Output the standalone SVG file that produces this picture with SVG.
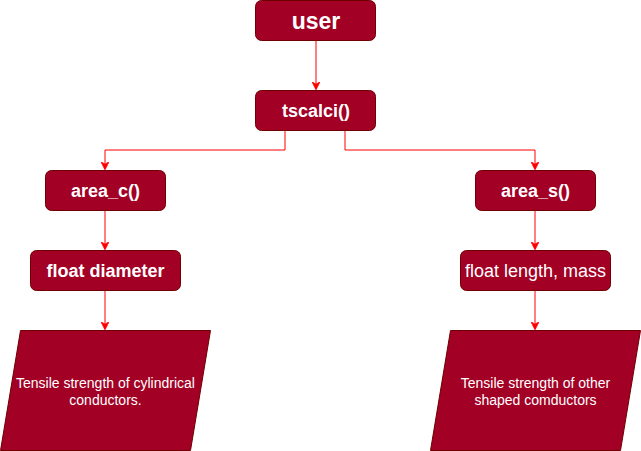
<svg xmlns="http://www.w3.org/2000/svg" width="641" height="451" viewBox="0 0 641 451">
<style>
.box{fill:#a20025;stroke:#6f0000;stroke-width:1}
.t{fill:#ffffff;font-family:"Liberation Sans",Arial,sans-serif;text-anchor:middle;dominant-baseline:central}
.b{font-weight:bold;font-size:18px}
.s{font-size:14px}
.e{fill:none;stroke:#ff0000;stroke-width:1}
</style>
<defs>
<marker id="a" viewBox="0 0 10 10" refX="9" refY="5" markerWidth="8" markerHeight="8" markerUnits="userSpaceOnUse" orient="auto">
<path d="M0,0 L10,5 L0,10 L3,5 Z" fill="#ff0000" stroke="#ff0000"/>
</marker>
</defs>
<g id="connectors">
<path class="e" d="M316,41 V89" marker-end="url(#a)"/>
<path class="e" d="M285,130 V150 H105 V169" marker-end="url(#a)"/>
<path class="e" d="M345,130 V150 H535 V169" marker-end="url(#a)"/>
<path class="e" d="M105,210 V249" marker-end="url(#a)"/>
<path class="e" d="M535,210 V249" marker-end="url(#a)"/>
<path class="e" d="M105,290 V329" marker-end="url(#a)"/>
<path class="e" d="M535,290 V329" marker-end="url(#a)"/>
</g>
<g id="user"><rect class="box" x="255.5" y="0.5" width="120" height="40" rx="6"/><text class="t" x="316" y="21" font-size="23" font-weight="bold">user</text></g>
<g id="tscalci"><rect class="box" x="255.5" y="90.5" width="120" height="40" rx="6"/><text class="t b" x="316" y="110.5">tscalci()</text></g>
<g id="area_c"><rect class="box" x="45.5" y="170.5" width="120" height="40" rx="6"/><text class="t b" x="105.5" y="190.5">area_c()</text></g>
<g id="area_s"><rect class="box" x="475.5" y="170.5" width="120" height="40" rx="6"/><text class="t b" x="535.5" y="190.5">area_s()</text></g>
<g id="float_diameter"><rect class="box" x="30.5" y="250.5" width="150" height="40" rx="6"/><text class="t b" x="105.5" y="270.5">float diameter</text></g>
<g id="float_length"><rect class="box" x="460.5" y="250.5" width="150" height="40" rx="6"/><text class="t" x="535.5" y="270.5" font-size="18">float length, mass</text></g>
<g id="out_c"><polygon class="box" points="20.5,330.5 210.5,330.5 190.5,450.5 0.5,450.5"/><text class="t s" x="105.5" y="383">Tensile strength of cylindrical</text><text class="t s" x="105.5" y="400">conductors.</text></g>
<g id="out_s"><polygon class="box" points="450.5,330.5 640.5,330.5 620.5,450.5 430.5,450.5"/><text class="t s" x="535.5" y="383">Tensile strength of other</text><text class="t s" x="535.5" y="400">shaped comductors</text></g>
</svg>
